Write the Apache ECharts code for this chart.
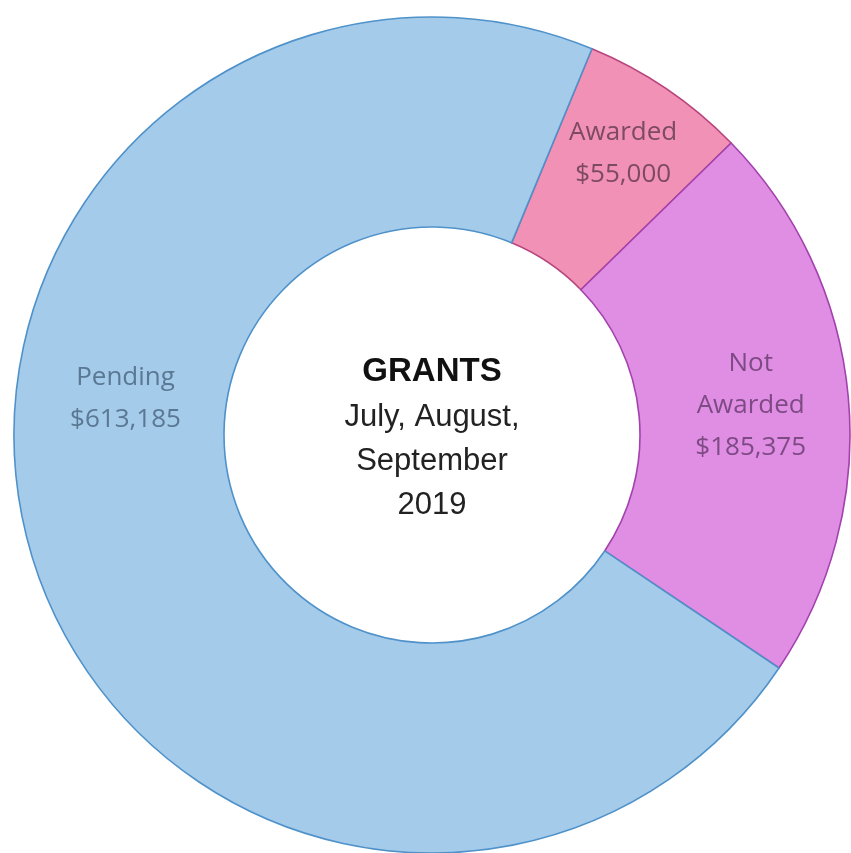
<!DOCTYPE html>
<html>
<head>
<meta charset="utf-8">
<script src="https://cdn.jsdelivr.net/npm/echarts@6/dist/echarts.min.js"></script>
<style>
html,body{margin:0;padding:0;background:#fff;}
#chart{width:851px;height:853px;}
</style>
</head>
<body>
<div id="chart"></div>
<script>
const categories = ['Awarded', 'Not Awarded', 'Pending'];
const labelNames = ['Awarded', 'Not\nAwarded', 'Pending'];
const values = [55000, 185375, 613185];
const fillColors = ['#F291B6', '#DF8EE4', '#A5CBEA'];
const borderColors = ['#B8457E', '#A341AD', '#4F92CA'];
const labelColors = ['#7D4A64', '#7E4A84', '#5A7894'];
const centerLines = ['GRANTS', 'July, August,', 'September', '2019'];
const labelShift = [[14, -20], [4, -1], [-4, -128]];

const fmt = v => '$' + v.toLocaleString('en-US');

const chart = echarts.init(document.getElementById('chart'), null, {renderer: 'canvas'});
const data = categories.map((c, i) => ({
  name: c,
  value: values[i],
  itemStyle: {color: fillColors[i], borderColor: borderColors[i], borderWidth: 1.6},
  label: {color: labelColors[i]}
}));

chart.setOption({
  animation: false,
  backgroundColor: '#ffffff',
  series: [{
    type: 'pie',
    center: [432, 435],
    radius: [208, 418],
    startAngle: 67.5,
    clockwise: true,
    avoidLabelOverlap: false,
    label: {
      show: true,
      position: 'inside',
      rotate: 0,
      fontFamily: 'Open Sans',
      fontSize: 26,
      lineHeight: 42,
      align: 'center',
      formatter: p => labelNames[p.dataIndex] + '\n' + fmt(p.value)
    },
    labelLine: {show: false},
    labelLayout: p => ({dx: labelShift[p.dataIndex][0], dy: labelShift[p.dataIndex][1]}),
    emphasis: {disabled: true},
    data: data
  }],
  graphic: [{
    type: 'text',
    x: 432,
    y: 438,
    style: {
      text: '{b|' + centerLines[0] + '}\n' + centerLines.slice(1).map(s => '{n|' + s + '}').join('\n'),
      align: 'center',
      verticalAlign: 'middle',
      rich: {
        b: {fontFamily: 'Liberation Sans, Arial', fontWeight: 'bold', fontSize: 33, lineHeight: 46, fill: '#111', align: 'center'},
        n: {fontFamily: 'Liberation Sans, Arial', fontSize: 31, lineHeight: 44, fill: '#222', align: 'center'}
      }
    }
  }]
});
</script>
</body>
</html>
